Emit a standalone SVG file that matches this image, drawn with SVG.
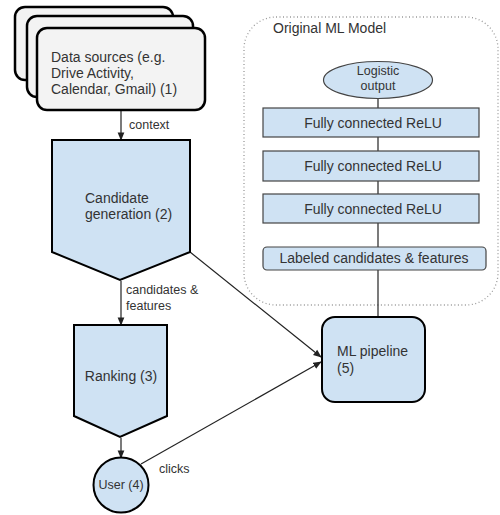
<svg xmlns="http://www.w3.org/2000/svg" width="500" height="515" viewBox="0 0 500 515">
  <style>
    text { font-family: "Liberation Sans", Arial, sans-serif; fill: #333; }
    .big { font-size: 14px; }
    .lbl { font-size: 12.5px; }
    .src { fill: #f3f3f3; stroke: #000; stroke-width: 2.5; }
    .stage { fill: #cfe2f3; stroke: #000; stroke-width: 2; }
    .layer { fill: #cfe2f3; stroke: #444; stroke-width: 1.2; }
    .edge { fill: none; stroke: #222; stroke-width: 1.2; }
    .plain { fill: none; stroke: #222; stroke-width: 1.2; }
    .frame { fill: none; stroke: #999; stroke-width: 1.3; stroke-dasharray: 1 2.5; }
  </style>
  <defs>
    <marker id="arrow" viewBox="0 0 10 10" refX="9" refY="5" markerWidth="7" markerHeight="7" orient="auto">
      <path d="M0,1 L10,5 L0,9 z" fill="#222"/>
    </marker>
  </defs>

  <!-- Model container -->
  <g id="model-frame">
    <rect class="frame" x="244" y="17" width="254" height="288" rx="32" ry="32"/>
    <text class="big" x="273" y="33">Original ML Model</text>
  </g>

  <!-- Connectors -->
  <g id="connectors">
    <line class="edge" x1="121" y1="111" x2="121" y2="140" marker-end="url(#arrow)"/>
    <line class="edge" x1="121" y1="281" x2="121" y2="325" marker-end="url(#arrow)"/>
    <line class="edge" x1="121" y1="438" x2="121" y2="458" marker-end="url(#arrow)"/>
    <line class="edge" x1="190" y1="252" x2="321" y2="357" marker-end="url(#arrow)"/>
    <line class="edge" x1="141" y1="464" x2="321" y2="362" marker-end="url(#arrow)"/>
    <line class="plain" x1="378" y1="98" x2="378" y2="108"/>
    <line class="plain" x1="378" y1="137" x2="378" y2="151"/>
    <line class="plain" x1="378" y1="181" x2="378" y2="194"/>
    <line class="plain" x1="378" y1="223" x2="378" y2="247"/>
    <line class="plain" x1="378" y1="270" x2="378" y2="317"/>
    <text class="lbl" x="129" y="129">context</text>
    <text class="lbl" x="126" y="294">candidates &amp;</text>
    <text class="lbl" x="126" y="310">features</text>
    <text class="lbl" x="159" y="473">clicks</text>
  </g>

  <!-- Data sources (stacked) -->
  <g id="data-sources">
    <rect class="src" x="15" y="7" width="158" height="73" rx="10" ry="10"/>
    <rect class="src" x="27" y="16" width="166" height="81" rx="10" ry="10"/>
    <rect class="src" x="37" y="28" width="168" height="82" rx="10" ry="10"/>
    <text class="big" x="51" y="62">Data sources (e.g.</text>
    <text class="big" x="51" y="78">Drive Activity,</text>
    <text class="big" x="51" y="94">Calendar, Gmail) (1)</text>
  </g>

  <!-- Candidate generation -->
  <g id="candidate-generation">
    <polygon class="stage" points="52,140 190,140 190,252 120,280 52,252"/>
    <text class="big" x="85" y="203">Candidate</text>
    <text class="big" x="85" y="219">generation (2)</text>
  </g>

  <!-- Ranking -->
  <g id="ranking">
    <polygon class="stage" points="74,325 167,325 167,416 120,437 74,416"/>
    <text class="big" x="121" y="381" text-anchor="middle">Ranking (3)</text>
  </g>

  <!-- User -->
  <g id="user">
    <circle class="stage" cx="121" cy="485" r="27.5" stroke-width="1.3"/>
    <text class="lbl" x="121" y="489" text-anchor="middle" font-size="13">User (4)</text>
  </g>

  <!-- ML pipeline -->
  <g id="ml-pipeline">
    <rect class="stage" x="322" y="317" width="103" height="85" rx="13" ry="13" stroke-width="2.5"/>
    <text class="big" x="337" y="356">ML pipeline</text>
    <text class="big" x="337" y="373">(5)</text>
  </g>

  <!-- Model layers -->
  <g id="logistic-output">
    <ellipse class="layer" cx="378" cy="80" rx="54.5" ry="18.5"/>
    <text class="lbl" x="378" y="75" text-anchor="middle">Logistic</text>
    <text class="lbl" x="378" y="90" text-anchor="middle">output</text>
  </g>
  <g id="relu-1">
    <rect class="layer" x="263" y="108" width="216" height="29"/>
    <text class="big" x="373" y="128" text-anchor="middle">Fully connected ReLU</text>
  </g>
  <g id="relu-2">
    <rect class="layer" x="263" y="151" width="216" height="30"/>
    <text class="big" x="373" y="171" text-anchor="middle">Fully connected ReLU</text>
  </g>
  <g id="relu-3">
    <rect class="layer" x="263" y="194" width="216" height="29"/>
    <text class="big" x="373" y="214" text-anchor="middle">Fully connected ReLU</text>
  </g>
  <g id="labeled-input">
    <rect class="layer" x="263" y="247" width="223" height="23" rx="4" ry="4"/>
    <text class="big" x="374" y="263" text-anchor="middle">Labeled candidates &amp; features</text>
  </g>
</svg>
